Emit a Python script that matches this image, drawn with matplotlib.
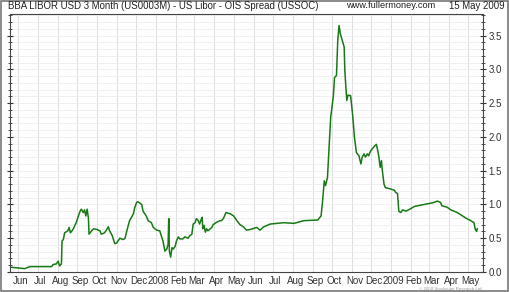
import matplotlib
matplotlib.use('Agg')
import matplotlib.pyplot as plt
import matplotlib.dates as mdates
import matplotlib.patches as patches
from matplotlib.ticker import MultipleLocator, FuncFormatter
import pandas as pd

plt.rcParams['font.family'] = ['Liberation Sans', 'DejaVu Sans']

# Libor - OIS spread
dates = [
    '2007-05-21', '2007-06-11', '2007-06-19', '2007-07-04', '2007-07-23', '2007-07-25',
    '2007-07-30', '2007-08-02', '2007-08-04', '2007-08-07', '2007-08-08', '2007-08-10',
    '2007-08-12', '2007-08-17', '2007-08-19', '2007-08-21', '2007-08-25', '2007-08-30',
    '2007-09-05', '2007-09-07', '2007-09-10', '2007-09-12', '2007-09-14', '2007-09-16',
    '2007-09-18', '2007-09-19', '2007-09-23', '2007-09-26', '2007-10-01', '2007-10-06',
    '2007-10-08', '2007-10-13', '2007-10-16', '2007-10-19', '2007-10-21', '2007-10-25',
    '2007-10-29', '2007-11-01', '2007-11-06', '2007-11-11', '2007-11-14', '2007-11-16',
    '2007-11-21', '2007-11-27', '2007-11-29', '2007-12-02', '2007-12-04', '2007-12-10',
    '2007-12-12', '2007-12-17', '2007-12-20', '2007-12-25', '2007-12-28', '2008-01-02',
    '2008-01-07', '2008-01-12', '2008-01-15', '2008-01-18', '2008-01-20', '2008-01-21',
    '2008-01-22', '2008-01-24', '2008-01-26', '2008-01-28', '2008-01-31', '2008-02-02',
    '2008-02-05', '2008-02-07', '2008-02-12', '2008-02-15', '2008-02-20', '2008-02-23',
    '2008-02-26', '2008-02-28', '2008-03-02', '2008-03-04', '2008-03-07', '2008-03-09',
    '2008-03-12', '2008-03-13', '2008-03-14', '2008-03-16', '2008-03-18', '2008-03-20',
    '2008-03-22', '2008-03-28', '2008-03-30', '2008-04-05', '2008-04-10', '2008-04-12',
    '2008-04-15', '2008-04-19', '2008-04-26', '2008-05-01', '2008-05-06', '2008-05-11',
    '2008-05-16', '2008-05-21', '2008-05-27', '2008-06-06', '2008-06-11', '2008-06-17',
    '2008-06-27', '2008-07-18', '2008-08-03', '2008-08-18', '2008-09-09', '2008-09-14',
    '2008-09-16', '2008-09-19', '2008-09-21', '2008-09-24', '2008-09-26', '2008-09-29',
    '2008-10-03', '2008-10-05', '2008-10-08', '2008-10-10', '2008-10-12', '2008-10-14',
    '2008-10-17', '2008-10-20', '2008-10-21', '2008-10-24', '2008-10-26', '2008-10-30',
    '2008-11-02', '2008-11-05', '2008-11-08', '2008-11-12', '2008-11-15', '2008-11-17',
    '2008-11-20', '2008-11-22', '2008-11-25', '2008-11-27', '2008-11-30', '2008-12-05',
    '2008-12-09', '2008-12-11', '2008-12-13', '2008-12-15', '2008-12-17', '2008-12-18',
    '2008-12-21', '2008-12-23', '2008-12-31', '2009-01-06', '2009-01-08', '2009-01-11',
    '2009-01-13', '2009-01-16', '2009-01-19', '2009-01-24', '2009-02-01', '2009-02-06',
    '2009-02-16', '2009-02-27', '2009-03-09', '2009-03-14', '2009-03-19', '2009-03-21',
    '2009-03-29', '2009-04-04', '2009-04-14', '2009-04-19', '2009-04-27', '2009-05-05',
    '2009-05-10', '2009-05-12', '2009-05-14', '2009-05-15',
]
spread = [
    0.07, 0.05, 0.08, 0.08, 0.08, 0.11,
    0.12, 0.16, 0.09, 0.12, 0.46, 0.48,
    0.58, 0.61, 0.66, 0.58, 0.63, 0.73,
    0.90, 0.93, 0.88, 0.92, 0.83, 0.93,
    0.80, 0.56, 0.61, 0.64, 0.63, 0.61,
    0.56, 0.58, 0.62, 0.67, 0.61, 0.54,
    0.42, 0.43, 0.50, 0.48, 0.50, 0.58,
    0.76, 0.86, 0.95, 1.03, 1.04, 1.00,
    0.90, 0.83, 0.76, 0.73, 0.66, 0.62,
    0.61, 0.46, 0.31, 0.34, 0.41, 0.79,
    0.31, 0.22, 0.36, 0.34, 0.38, 0.46,
    0.52, 0.49, 0.49, 0.52, 0.50, 0.54,
    0.56, 0.71, 0.73, 0.79, 0.76, 0.71,
    0.79, 0.81, 0.64, 0.69, 0.59, 0.64,
    0.61, 0.66, 0.70, 0.74, 0.76, 0.76,
    0.79, 0.88, 0.86, 0.83, 0.76, 0.70,
    0.67, 0.62, 0.63, 0.66, 0.62, 0.67,
    0.71, 0.73, 0.72, 0.76, 0.77, 0.83,
    1.01, 1.35, 1.28, 1.40, 1.75, 2.29,
    2.59, 2.88, 2.91, 3.43, 3.65, 3.53,
    3.43, 3.33, 2.98, 2.54, 2.62, 2.61,
    2.34, 1.99, 1.77, 1.72, 1.60, 1.70,
    1.75, 1.70, 1.75, 1.72, 1.79, 1.85,
    1.89, 1.81, 1.70, 1.55, 1.65, 1.53,
    1.30, 1.25, 1.23, 1.21, 1.18, 1.16,
    0.90, 0.88, 0.92, 0.90, 0.94, 0.97,
    0.99, 1.01, 1.03, 1.05, 1.03, 0.98,
    0.96, 0.92, 0.88, 0.85, 0.80, 0.76,
    0.73, 0.63, 0.60, 0.64,
]

x = pd.to_datetime(dates)

fig = plt.figure(figsize=(5.1, 2.92), dpi=100, facecolor='white')
ax = fig.add_axes([10 / 510, 20 / 292, 473 / 510, 258 / 292])

ax.plot(x, spread, color='#177a17', linewidth=1.1)

ax.set_xlim(pd.Timestamp('2007-05-19'), pd.Timestamp('2009-05-24'))
ax.set_ylim(0, 3.82)

# month grid at month starts, labels just after
ax.xaxis.set_minor_locator(mdates.MonthLocator(bymonthday=1))
ax.xaxis.set_major_locator(mdates.MonthLocator(bymonthday=5))


def month_label(v, pos):
    d = mdates.num2date(v)
    return str(d.year) if d.month == 1 else d.strftime('%b')


ax.xaxis.set_major_formatter(FuncFormatter(month_label))
ax.tick_params(axis='x', which='both', length=0, labelsize=7, colors='#333333', pad=3)
ax.grid(True, which='minor', axis='x', color='#dddddd', linewidth=0.7)

ax.yaxis.tick_right()
ax.yaxis.set_major_locator(MultipleLocator(0.5))
ax.yaxis.set_minor_locator(MultipleLocator(0.1))
ax.yaxis.set_major_formatter(FuncFormatter(lambda v, p: '%.1f' % v))
ax.tick_params(axis='y', which='both', left=True, right=True, direction='inout',
               labelsize=7, colors='#333333', pad=2)
ax.tick_params(axis='y', which='major', length=4)
ax.tick_params(axis='y', which='minor', length=2.5)
ax.grid(True, which='both', axis='y', color='#eeeeee', linewidth=0.6)
ax.set_axisbelow(True)

for s in ax.spines.values():
    s.set_color('#444444')
    s.set_linewidth(0.8)

# header and footer texts
fig.text(8 / 510, 1 - 6 / 292, 'BBA LIBOR USD 3 Month (US0003M) - US Libor - OIS Spread (USSOC)',
         fontsize=6.9, color='#222222', ha='left', va='center')
fig.text(346 / 510, 1 - 6 / 292, 'www.fullermoney.com', fontsize=6.7, color='#222222',
         ha='left', va='center')
fig.text(505 / 510, 1 - 6 / 292, '15 May 2009', fontsize=6.9, color='#222222',
         ha='right', va='center')
fig.text(482 / 510, 1 - 288.5 / 292, '\u00a9 2009 Stockcube Research Ltd', fontsize=3.2,
         color='#999999', ha='right', va='center')

# outer frame
fig.patches.append(patches.Rectangle((0.002, 0.004), 0.994, 0.992, transform=fig.transFigure,
                                     fill=False, edgecolor='#777777', linewidth=1.2))

fig.savefig('out.png', dpi=100, facecolor='white')
print('done')
